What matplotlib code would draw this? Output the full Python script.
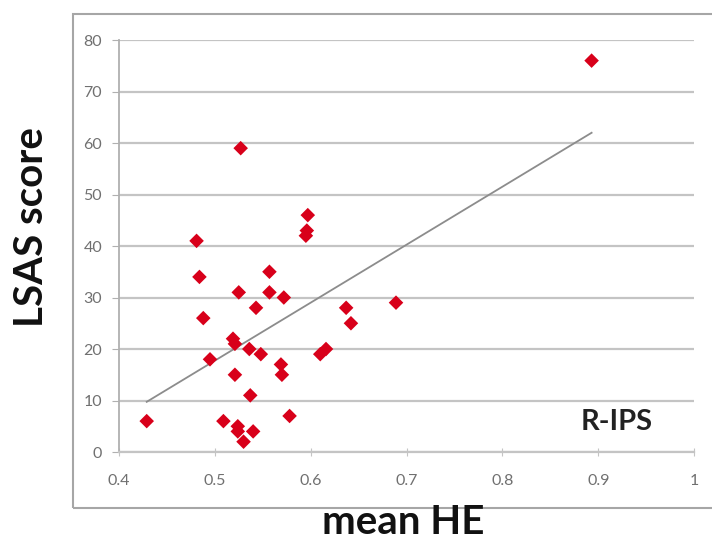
import matplotlib
matplotlib.use("Agg")
import matplotlib.pyplot as plt
import numpy as np
from matplotlib.patches import Rectangle

# mean HE (x) and LSAS score (y)
mean_he = [0.429, 0.481, 0.484, 0.488, 0.495, 0.509, 0.519, 0.521, 0.521,
           0.524, 0.524, 0.530, 0.525, 0.527, 0.536, 0.537, 0.540, 0.543,
           0.548, 0.557, 0.557, 0.572, 0.569, 0.570, 0.578, 0.595, 0.596,
           0.597, 0.610, 0.616, 0.637, 0.642, 0.689, 0.893]
lsas = [6, 41, 34, 26, 18, 6, 22, 21, 15,
        5, 4, 2, 31, 59, 20, 11, 4, 28,
        19, 35, 31, 30, 17, 15, 7, 42, 43,
        46, 19, 20, 28, 25, 29, 76]

x_ticks = [0.4, 0.5, 0.6, 0.7, 0.8, 0.9, 1]
x_tick_labels = ["0.4", "0.5", "0.6", "0.7", "0.8", "0.9", "1"]
y_ticks = [0, 10, 20, 30, 40, 50, 60, 70, 80]

x = np.array(mean_he)
y = np.array(lsas)

fig = plt.figure(figsize=(7.12, 5.41), dpi=100)
ax = fig.add_axes([0.167, 0.1645, 0.808, 0.7615])

# outer chart frame
fig.patches.append(Rectangle((0.1025, 0.061), 0.92, 0.913, transform=fig.transFigure,
                             fill=False, edgecolor="#a6a6a6", linewidth=1.5, zorder=0))

ax.set_xlim(0.4, 1)
ax.set_ylim(0, 80)
ax.set_yticks(y_ticks)
ax.set_xticks(x_ticks)
ax.set_xticklabels(x_tick_labels)

ax.grid(axis="y", color="#c4c4c4", linewidth=1.6)
ax.set_axisbelow(True)
for s in ["top", "right"]:
    ax.spines[s].set_visible(False)
ax.spines["left"].set_color("#b0b0b0")
ax.spines["bottom"].set_color("#c4c4c4")
ax.spines["left"].set_linewidth(1.3)
ax.spines["bottom"].set_linewidth(1.6)

ax.tick_params(axis="y", length=5, color="#b0b0b0", pad=7, labelsize=11.5, labelcolor="#707070")
ax.tick_params(axis="x", direction="inout", length=6, color="#c4c4c4", pad=13,
               labelsize=11.5, labelcolor="#707070")
for lab in ax.get_xticklabels() + ax.get_yticklabels():
    lab.set_family("Lato")

# linear trend line over the data range
k, b = np.polyfit(x, y, 1)
xs = np.array([x.min(), x.max()])
ax.plot(xs, k * xs + b, color="#8c8c8c", linewidth=1.3, zorder=2)

ax.scatter(x, y, marker="D", s=55, color="#d8001a", edgecolors="none", zorder=3)

ax.text(0.919, 5.9, "R-IPS", family="Lato", fontweight="bold", fontsize=21,
        color="#222222", ha="center", va="center")

fig.text(0.044, 0.58, "LSAS score", family="Lato", fontweight="bold", fontsize=29,
         rotation=90, ha="center", va="center", color="#111111")
fig.text(0.566, 0.035, "mean HE", family="Lato", fontweight="bold", fontsize=29,
         ha="center", va="center", color="#111111")

fig.savefig("out.png", dpi=100)
